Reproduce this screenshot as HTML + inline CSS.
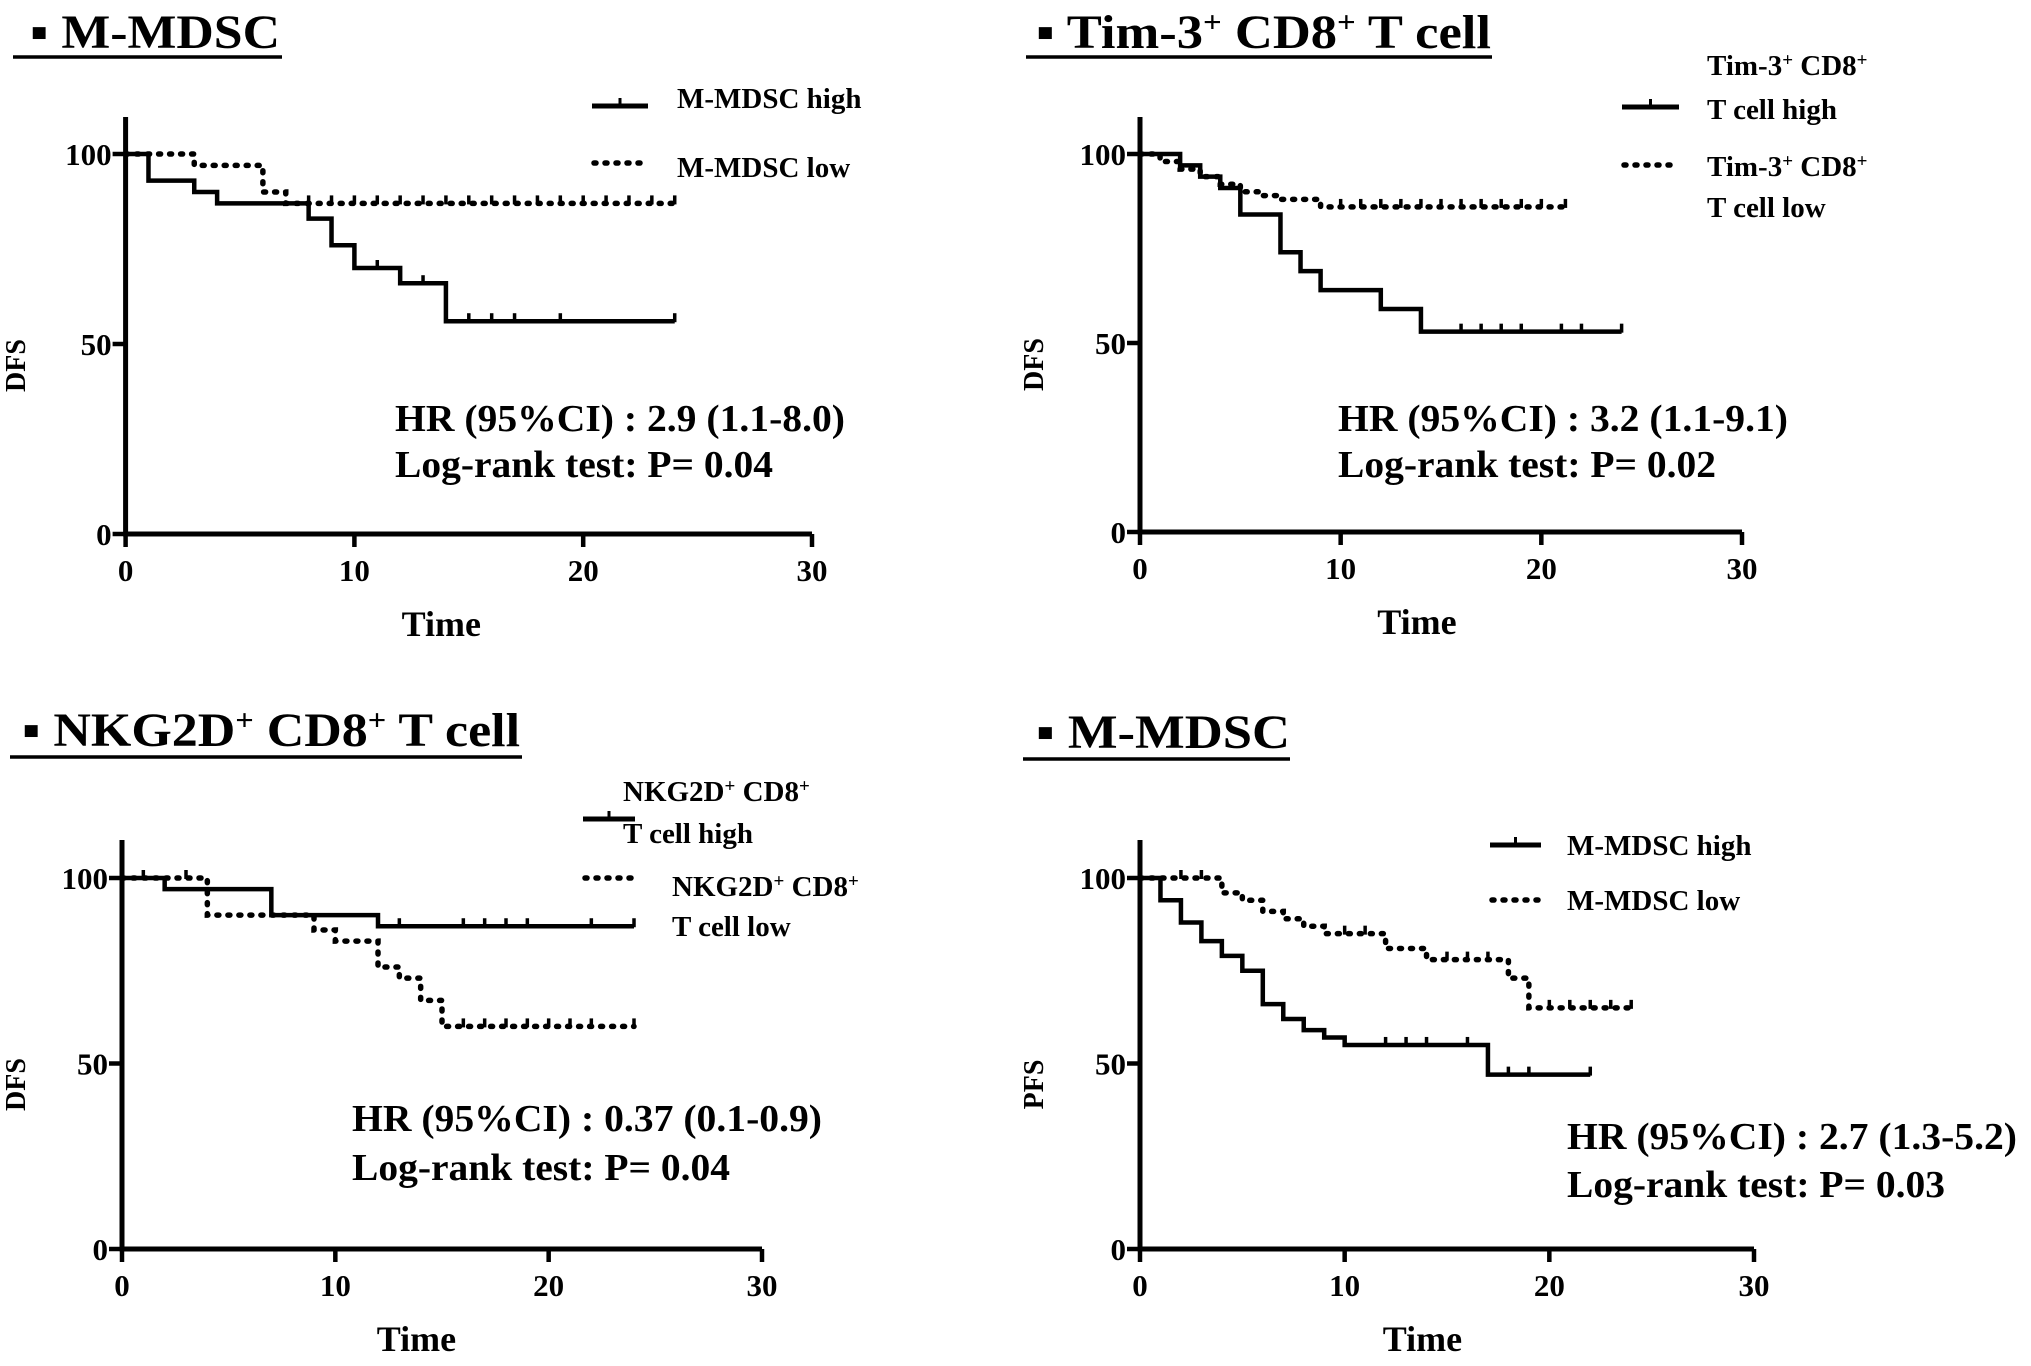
<!DOCTYPE html>
<html><head><meta charset="utf-8"><style>
html,body{margin:0;padding:0;background:#fff}
svg text{font-family:"Liberation Serif","Times New Roman",serif;font-weight:bold;fill:#000}
</style></head><body>
<svg id="fig" width="2031" height="1361" viewBox="0 0 2031 1361" xmlns="http://www.w3.org/2000/svg"></svg>
<script>
// ---- Panel 1 (M-MDSC, DFS) ----
const p1HighTimes=[0,1,3,4,8,9,10,12,14,24];
const p1HighSurv=[100,93,90,87,83,76,70,66,56,56];
const p1HighCensor=[11,13,15,16,17,19,24];
const p1LowTimes=[0,3,6,7,24];
const p1LowSurv=[100,97,90,87,87];
const p1LowCensor=[8,9,10,11,12,13,14,15,16,17,18,19,20,21,22,23,24];
// ---- Panel 2 (Tim-3+ CD8+ T cell, DFS) ----
const p2HighTimes=[0,2,3,4,5,7,8,9,12,14,24];
const p2HighSurv=[100,97,94,91,84,74,69,64,59,53,53];
const p2HighCensor=[16,17,18,19,21,22,24];
const p2LowTimes=[0,1,2,3,4,5,6,7,9,21.2];
const p2LowSurv=[100,98,96,94,92,90,89,88,86,86];
const p2LowCensor=[10,11,12,13,14,15,16,17,18,19,20,21.2];
// ---- Panel 3 (NKG2D+ CD8+ T cell, DFS) ----
const p3HighTimes=[0,2,7,12,24];
const p3HighSurv=[100,97,90,87,87];
const p3HighCensor=[13,16,17,18,19,22,24];
const p3LowTimes=[0,4,9,10,12,13,14,15,24];
const p3LowSurv=[100,90,86,83,76,73,67,60,60];
const p3LowCensor=[1,3,16,17,18,19,20,21,22,24];
// ---- Panel 4 (M-MDSC, PFS) ----
const p4HighTimes=[0,1,2,3,4,5,6,7,8,9,10,17,22];
const p4HighSurv=[100,94,88,83,79,75,66,62,59,57,55,47,47];
const p4HighCensor=[12,13,14,16,18,19,22];
const p4LowTimes=[0,4,5,6,7,8,9,12,14,18,19,24];
const p4LowSurv=[100,96,94,91,89,87,85,81,78,73,65,65];
const p4LowCensor=[2,3,10,11,15,16,17,20,21,22,23,24];
const xTicks=[0,10,20,30];
const yTicks=[0,50,100];

const NS="http://www.w3.org/2000/svg";
const svg=document.getElementById('fig');
function mk(tag,attrs,parent){const e=document.createElementNS(NS,tag);for(const k in attrs)e.setAttribute(k,attrs[k]);(parent||svg).appendChild(e);return e;}
function txt(s,attrs,parent){const e=mk('text',attrs,parent);e.innerHTML=s;return e;}

const panels=[
 {x0:125.6,x30:812,y0:534,y100:154,top:117,ylab:'DFS',ylx:25,hi:[p1HighTimes,p1HighSurv,p1HighCensor],lo:[p1LowTimes,p1LowSurv,p1LowCensor],
  title:'▪ M-MDSC',tx:30,ty:48,tw:250,ul:[13,282,57],
  leg:{lx1:592,lx2:648,hy:106,ly:163,tx:677,hiText:['M-MDSC high'],loText:['M-MDSC low'],hiTy:[108],loTy:[177]},
  hr:{x:395,y1:431,y2:477,l1:'HR (95%CI) : 2.9 (1.1-8.0)',l2:'Log-rank test: P= 0.04',w1:450,w2:378}},
 {x0:1140,x30:1742,y0:532,y100:154,top:117,ylab:'DFS',ylx:1043,hi:[p2HighTimes,p2HighSurv,p2HighCensor],lo:[p2LowTimes,p2LowSurv,p2LowCensor],
  title:'▪ Tim-3<tspan font-size="30" dy="-16">+</tspan><tspan dy="16"> CD8</tspan><tspan font-size="30" dy="-16">+</tspan><tspan dy="16"> T cell</tspan>',tx:1036,ty:48,tw:455,ul:[1026,1492,57],
  leg:{lx1:1622,lx2:1679,hy:107,ly:165,tx:1707,hiText:['Tim-3<tspan font-size="19" dy="-9">+</tspan><tspan dy="9"> CD8</tspan><tspan font-size="19" dy="-9">+</tspan>','T cell  high'],loText:['Tim-3<tspan font-size="19" dy="-9">+</tspan><tspan dy="9"> CD8</tspan><tspan font-size="19" dy="-9">+</tspan>','T cell  low'],hiTy:[75,119],loTy:[176,217]},
  hr:{x:1338,y1:431,y2:477,l1:'HR (95%CI) : 3.2 (1.1-9.1)',l2:'Log-rank test: P= 0.02',w1:450,w2:378}},
 {x0:122,x30:762,y0:1249,y100:878,top:840,ylab:'DFS',ylx:25,hi:[p3HighTimes,p3HighSurv,p3HighCensor],lo:[p3LowTimes,p3LowSurv,p3LowCensor],
  title:'▪ NKG2D<tspan font-size="30" dy="-16">+</tspan><tspan dy="16"> CD8</tspan><tspan font-size="30" dy="-16">+</tspan><tspan dy="16"> T cell</tspan>',tx:22,ty:746,tw:498,ul:[10,522,757],
  leg:{lx1:583,lx2:635,hy:819,ly:878,tx:623,hiText:['NKG2D<tspan font-size="19" dy="-9">+</tspan><tspan dy="9"> CD8</tspan><tspan font-size="19" dy="-9">+</tspan>','T cell  high'],loText:['NKG2D<tspan font-size="19" dy="-9">+</tspan><tspan dy="9"> CD8</tspan><tspan font-size="19" dy="-9">+</tspan>','T cell  low'],hiTy:[801,843],loTy:[896,936],loTx:672},
  hr:{x:352,y1:1131,y2:1180,l1:'HR (95%CI) : 0.37 (0.1-0.9)',l2:'Log-rank test: P= 0.04',w1:470,w2:378}},
 {x0:1140,x30:1754,y0:1249,y100:878,top:840,ylab:'PFS',ylx:1043,hi:[p4HighTimes,p4HighSurv,p4HighCensor],lo:[p4LowTimes,p4LowSurv,p4LowCensor],
  title:'▪ M-MDSC',tx:1036,ty:748,tw:254,ul:[1023,1290,759],
  leg:{lx1:1490,lx2:1541,hy:845,ly:900,tx:1567,hiText:['M-MDSC high'],loText:['M-MDSC low'],hiTy:[855],loTy:[910]},
  hr:{x:1567,y1:1149,y2:1197,l1:'HR (95%CI) : 2.7 (1.3-5.2)',l2:'Log-rank test: P= 0.03',w1:450,w2:378}}
];

function stepAt(times,surv,t){let v=surv[0];for(let i=0;i<times.length;i++){if(times[i]<=t)v=surv[i];}return v;}
const DOT='2 9';

panels.forEach((p,pi)=>{
  const g=mk('g',{});
  
  
  const X=t=>p.x0+(p.x30-p.x0)*t/30;
  const Y=v=>p.y0+(p.y100-p.y0)*v/100;
  const tt=txt(p.title,{x:p.tx,y:p.ty,'font-size':48,textLength:p.tw,lengthAdjust:'spacingAndGlyphs'},g);
  
  
  const ul=mk('line',{x1:p.ul[0],x2:p.ul[1],y1:p.ul[2],y2:p.ul[2],stroke:'#000','stroke-width':3.5},g);
  
  
  const ax=mk('path',{d:`M${p.x0} ${p.top} V${p.y0} H${p.x30}`,stroke:'#000','stroke-width':5,fill:'none'},g);
  
  
  xTicks.forEach(t=>{
    const l=mk('line',{x1:X(t),x2:X(t),y1:p.y0,y2:p.y0+13,stroke:'#000','stroke-width':4.5},g);
    
    
    const lb=txt(String(t),{x:X(t),y:p.y0+47,'font-size':31,'text-anchor':'middle'},g);
    
    
  });
  yTicks.forEach(v=>{
    const l=mk('line',{x1:p.x0-13,x2:p.x0,y1:Y(v),y2:Y(v),stroke:'#000','stroke-width':4.5},g);
    
    
    const lb=txt(String(v),{x:p.x0-14,y:Y(v)+11,'font-size':31,'text-anchor':'end'},g);
    
    
  });
  const xt=txt('Time',{x:p.x0+(X(15)-p.x0)*0.92,y:p.y0+102,'font-size':36,'text-anchor':'middle'},g);
  
  
  const ymid=(p.top+p.y0)/2+40;
  const yt=txt(p.ylab,{x:p.ylx,y:ymid,'font-size':28,'text-anchor':'middle',transform:`rotate(-90 ${p.ylx} ${ymid})`},g);
  
  
  [['hi',p.hi,'none'],['lo',p.lo,DOT]].forEach(([k,s,dash])=>{
    const [T,S,C]=s;
    let d=`M${X(T[0])} ${Y(S[0])}`;
    for(let i=1;i<T.length;i++){d+=` H${X(T[i])} V${Y(S[i])}`;}
    const path=mk('path',{d:d,stroke:'#000','stroke-width':k==='hi'?4.5:5.5,fill:'none','stroke-dasharray':dash,'stroke-linecap':k==='hi'?'butt':'round'},g);
    
    
    C.forEach(c=>{
      const v=stepAt(T,S,c);
      const m=mk('line',{x1:X(c),x2:X(c),y1:Y(v)-8,y2:Y(v)+1,stroke:'#000','stroke-width':3.5},g);
      
      
    });
  });
  const L=p.leg;
  const lh=mk('line',{x1:L.lx1,x2:L.lx2,y1:L.hy,y2:L.hy,stroke:'#000','stroke-width':5},g);
  
  
  mk('line',{x1:(L.lx1+L.lx2)/2,x2:(L.lx1+L.lx2)/2,y1:L.hy-8,y2:L.hy,stroke:'#000','stroke-width':3},g);
  const ll=mk('line',{x1:L.lx1+2,x2:L.lx2,y1:L.ly,y2:L.ly,stroke:'#000','stroke-width':5.5,'stroke-dasharray':DOT,'stroke-linecap':'round'},g);
  
  
  L.hiText.forEach((s,i)=>{
    const e=txt(s,{x:L.tx,y:L.hiTy[i],'font-size':29},g);
    
    
  });
  L.loText.forEach((s,i)=>{
    const e=txt(s,{x:L.loTx||L.tx,y:L.loTy[i],'font-size':29},g);
    
    
  });
  const h1=txt(p.hr.l1,{x:p.hr.x,y:p.hr.y1,'font-size':38,textLength:p.hr.w1,lengthAdjust:'spacingAndGlyphs'},g);
  
  
  const h2=txt(p.hr.l2,{x:p.hr.x,y:p.hr.y2,'font-size':38,textLength:p.hr.w2,lengthAdjust:'spacingAndGlyphs'},g);
  
  
});
</script>
</body></html>
